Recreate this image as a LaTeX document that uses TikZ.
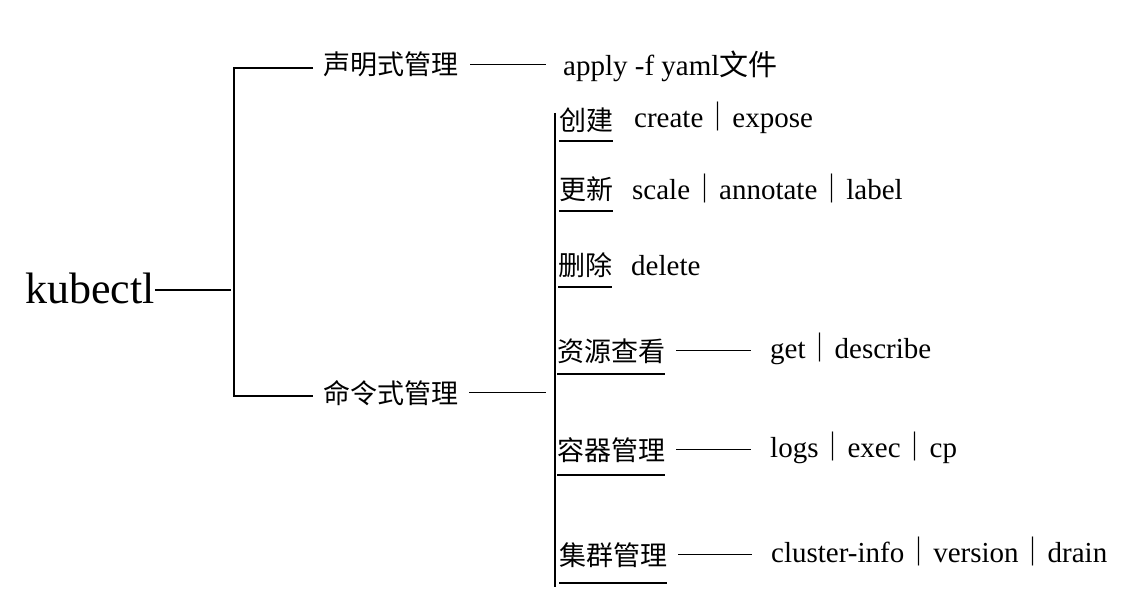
\documentclass[tikz,border=0pt]{standalone}
\usepackage{fontspec}
\setmainfont{Liberation Serif}
\newfontfamily\cjk{Noto Sans CJK SC}
\newcommand{\cmdsep}{{\cjk ｜}}
\begin{document}
\begin{tikzpicture}%
	[x=1pt,y=-1pt,
	link/.style={color=black, line width=1.4pt},
	root/.style={inner sep=0pt,anchor=base west,font=\fontsize{44}{48}\selectfont},
	branch/.style={inner sep=0pt,anchor=base west,font=\cjk\fontsize{27}{30}\selectfont},
	cmd/.style={inner sep=0pt,anchor=base west,font=\fontsize{29}{32}\selectfont}]
	\useasboundingbox (0,0) rectangle (1126,612);

	\node[root] (kubectl) at (25,303) {kubectl};
	\node[branch] (decl) at (323,75) {声明式管理};
	\node[branch] (imp) at (323,403) {命令式管理};
	\node[cmd] (apply) at (563,76) {apply -f yaml{\cjk 文件}};

	%bracket
	\coordinate (fork) at (234,290);
	\coordinate (top) at (234,68);
	\coordinate (bottom) at (234,396);
	\draw[link] (kubectl.east |- fork) -- ([xshift=-3pt]fork);
	\draw[link, shorten <=10pt, shorten >=10pt] (decl.west |- top) -- (top) -- (bottom) -- (imp.west |- bottom);
	\draw[link, shorten <=12pt, shorten >=17pt] (decl.east) -- (decl.east -| apply.west);

	%spine
	\coordinate (spinetop) at (555,113);
	\coordinate (spinebot) at (555,587);
	\draw[link] (spinetop) -- (spinebot);
	\draw[link, shorten <=11pt, shorten >=9pt] (imp.east) -- (imp.east -| spinetop);

	\node[branch] (create) at (559,131) {创建};
	\node[branch] (update) at (559,200) {更新};
	\node[branch] (delete) at (558,275) {删除};
	\node[branch] (view) at (557,361) {资源查看};
	\node[branch] (container) at (557,460) {容器管理};
	\node[branch] (cluster) at (559,565) {集群管理};

	\node[cmd] (createcmd) at (634,128) {create\cmdsep expose};
	\node[cmd] (updatecmd) at (632,200) {scale\cmdsep annotate\cmdsep label};
	\node[cmd] (deletecmd) at (631,275) {delete};
	\node[cmd] (viewcmd) at (770,358) {get\cmdsep describe};
	\node[cmd] (containercmd) at (770,457) {logs\cmdsep exec\cmdsep cp};
	\node[cmd] (clustercmd) at (771,562) {cluster-info\cmdsep version\cmdsep drain};

	%underlines
	\foreach \n/\d in {create/10, update/11, delete/12, view/13, container/15, cluster/18}
		\draw[link] ([yshift=-\d pt]\n.base west) -- ([yshift=-\d pt]\n.base east);

	\foreach \a/\b in {view/viewcmd, container/containercmd, cluster/clustercmd}
		\draw[link, shorten <=11pt, shorten >=19pt] (\a.east) -- (\a.east -| \b.west);
\end{tikzpicture}
\end{document}
